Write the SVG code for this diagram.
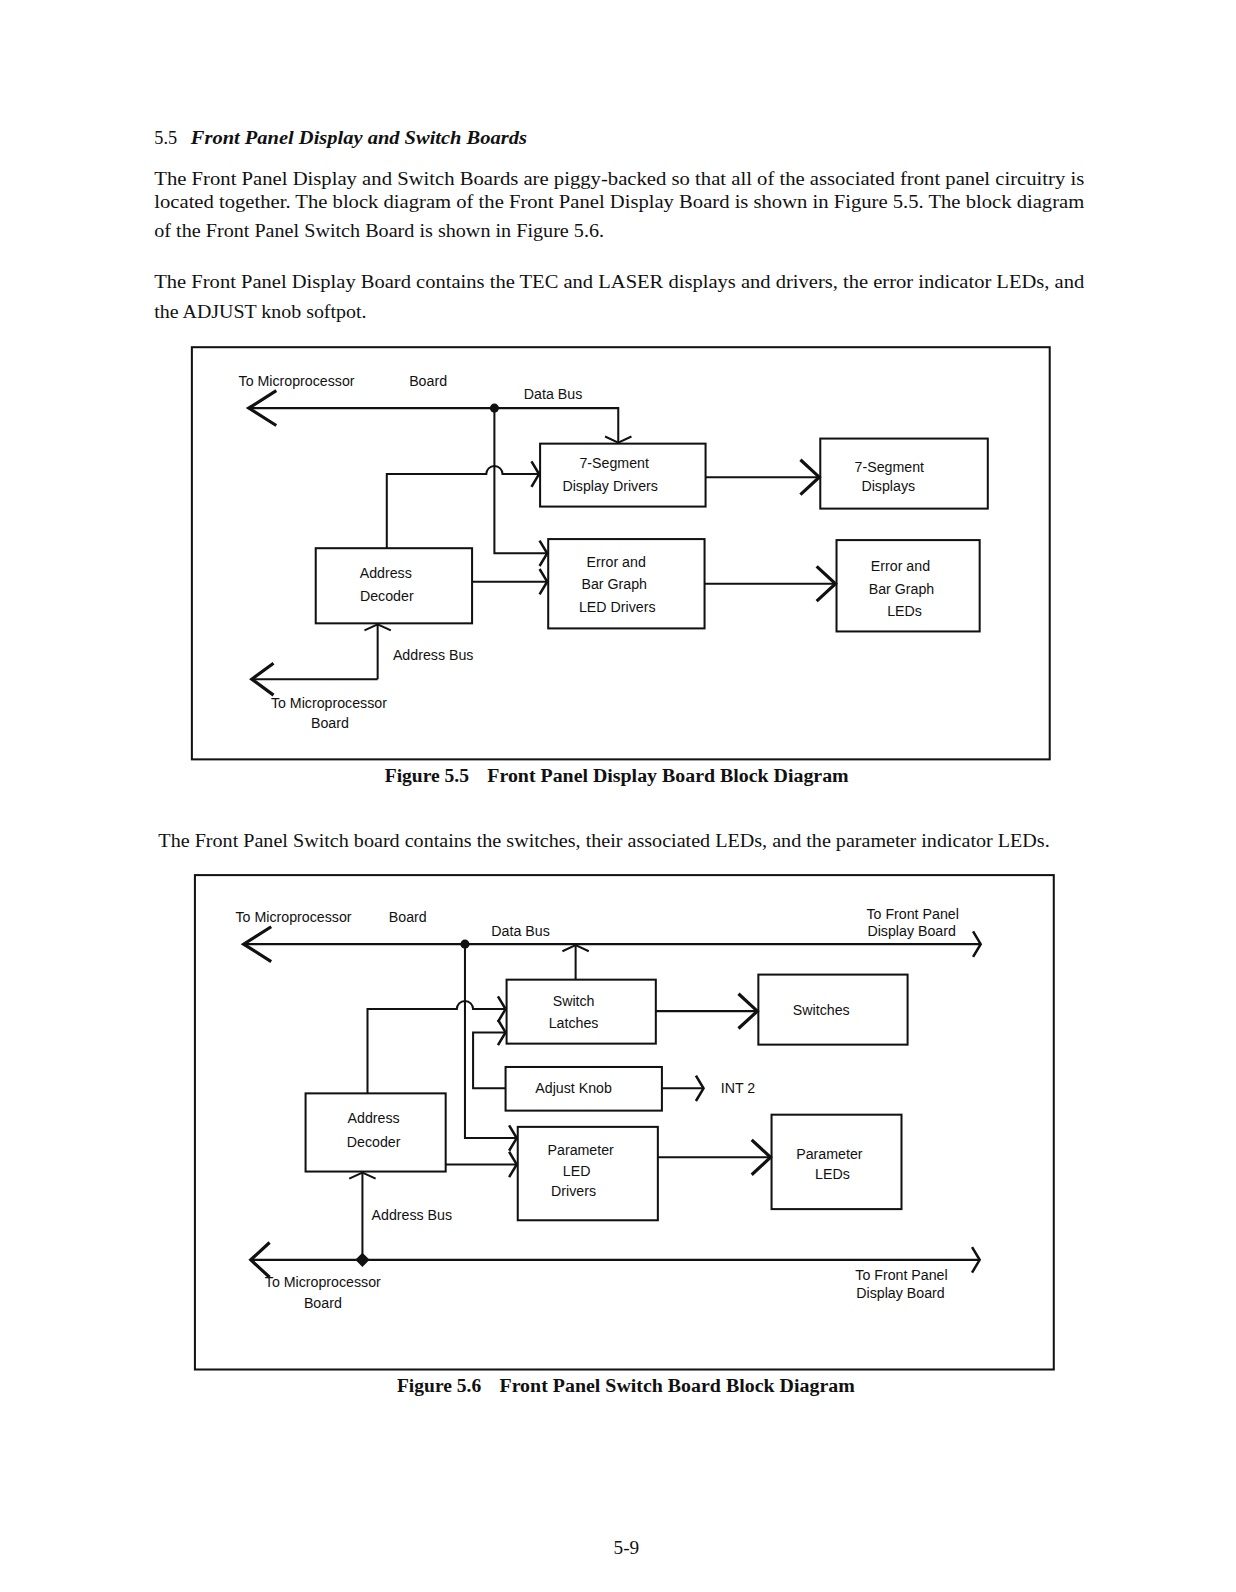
<svg xmlns="http://www.w3.org/2000/svg" width="1236" height="1592" viewBox="0 0 1236 1592">
<style>
.body{font-family:"Liberation Serif","Times New Roman",serif;font-size:19px;fill:#111}
.cap{font-family:"Liberation Serif","Times New Roman",serif;font-size:18px;font-weight:bold;fill:#111}
.lbl{font-family:"Liberation Sans",Arial,sans-serif;font-size:14px;fill:#111}
.c{text-anchor:middle}
.box{fill:none;stroke:#111;stroke-width:2}
.frame{fill:none;stroke:#111;stroke-width:2}
.ln{fill:none;stroke:#111;stroke-width:2}
</style>
<defs>
<marker id="aBig" markerUnits="userSpaceOnUse" markerWidth="40" markerHeight="40" viewBox="-22 -14 26 28" refX="0" refY="0" orient="auto" overflow="visible"><path d="M-19,-12 L0,0 L-19,12" fill="none" stroke="#111" stroke-width="2.2"/></marker>
<marker id="aMid" markerUnits="userSpaceOnUse" markerWidth="40" markerHeight="40" viewBox="-16 -14 20 28" refX="0" refY="0" orient="auto" overflow="visible"><path d="M-13,-12 L0,0 L-13,12" fill="none" stroke="#111" stroke-width="2.2"/></marker>
<marker id="aSm" markerUnits="userSpaceOnUse" markerWidth="40" markerHeight="40" viewBox="-16 -14 20 28" refX="0" refY="0" orient="auto" overflow="visible"><path d="M-15,-11 L0,0 L-15,11" fill="none" stroke="#111" stroke-width="2.2"/></marker>
<marker id="aNar" markerUnits="userSpaceOnUse" markerWidth="30" markerHeight="30" viewBox="-10 -12 14 24" refX="0" refY="0" orient="auto" overflow="visible"><path d="M-6,-10 L0,0 L-6,10" fill="none" stroke="#111" stroke-width="2"/></marker>
<marker id="aFlat" markerUnits="userSpaceOnUse" markerWidth="30" markerHeight="30" viewBox="-10 -15 14 30" refX="0" refY="0" orient="auto" overflow="visible"><path d="M-6,-13 L0,0 L-6,13" fill="none" stroke="#111" stroke-width="2"/></marker>
</defs>
<rect width="1236" height="1592" fill="#fff"/>
<g id="page" transform="scale(1.0152)">

<g id="page-text">
<text x="152" y="142" style="font-family:'Liberation Serif',serif;font-size:18px;fill:#111">5.5</text>
<text x="188" y="142" style="font-family:'Liberation Serif',serif;font-size:18px;font-weight:bold;font-style:italic;fill:#111" textLength="331" lengthAdjust="spacingAndGlyphs">Front Panel Display and Switch Boards</text>
<text class="body" x="152" y="182" textLength="916" lengthAdjust="spacingAndGlyphs">The Front Panel Display and Switch Boards are piggy-backed so that all of the associated front panel circuitry is</text>
<text class="body" x="152" y="205" textLength="916" lengthAdjust="spacingAndGlyphs">located together. The block diagram of the Front Panel Display Board is shown in Figure 5.5. The block diagram</text>
<text class="body" x="152" y="233" textLength="443" lengthAdjust="spacingAndGlyphs">of the Front Panel Switch Board is shown in Figure 5.6.</text>
<text class="body" x="152" y="284" textLength="916" lengthAdjust="spacingAndGlyphs">The Front Panel Display Board contains the TEC and LASER displays and drivers, the error indicator LEDs, and</text>
<text class="body" x="152" y="313" textLength="209" lengthAdjust="spacingAndGlyphs">the ADJUST knob softpot.</text>
<text class="cap" x="379" y="770" textLength="83" lengthAdjust="spacingAndGlyphs">Figure 5.5</text>
<text class="cap" x="480" y="770" textLength="356" lengthAdjust="spacingAndGlyphs">Front Panel Display Board Block Diagram</text>
<text class="body" x="156" y="834" textLength="878" lengthAdjust="spacingAndGlyphs">The Front Panel Switch board contains the switches, their associated LEDs, and the parameter indicator LEDs.</text>
<text class="cap" x="391" y="1371" textLength="83" lengthAdjust="spacingAndGlyphs">Figure 5.6</text>
<text class="cap" x="492" y="1371" textLength="350" lengthAdjust="spacingAndGlyphs">Front Panel Switch Board Block Diagram</text>
<text class="body" x="617" y="1531" text-anchor="middle">5-9</text>
</g>

<!-- Figure 5.5 -->
<g id="fig55">
<rect class="frame" x="189" y="342" width="845" height="406"/>
<g id="f55-labels">
<text class="lbl" x="235" y="380">To Microprocessor</text>
<text class="lbl" x="403" y="380">Board</text>
<text class="lbl" x="516" y="393">Data Bus</text>
<text class="lbl" x="387" y="650">Address Bus</text>
<text class="lbl c" x="324" y="697">To Microprocessor</text>
<text class="lbl c" x="325" y="717">Board</text>
</g>
<g id="f55-seg-drivers">
<rect class="box" x="532" y="437" width="163" height="62"/>
<text class="lbl c" x="605" y="461">7-Segment</text>
<text class="lbl c" x="601" y="484">Display Drivers</text>
</g>
<g id="f55-err-drivers">
<rect class="box" x="540" y="531" width="154" height="88"/>
<text class="lbl c" x="607" y="559">Error and</text>
<text class="lbl c" x="605" y="580">Bar Graph</text>
<text class="lbl c" x="608" y="603">LED Drivers</text>
</g>
<g id="f55-addr-decoder">
<rect class="box" x="311" y="540" width="154" height="74"/>
<text class="lbl c" x="380" y="569">Address</text>
<text class="lbl c" x="381" y="592">Decoder</text>
</g>
<g id="f55-seg-displays">
<rect class="box" x="808" y="432" width="165" height="69"/>
<text class="lbl c" x="876" y="465">7-Segment</text>
<text class="lbl c" x="875" y="484">Displays</text>
</g>
<g id="f55-leds">
<rect class="box" x="824" y="532" width="141" height="90"/>
<text class="lbl c" x="887" y="562">Error and</text>
<text class="lbl c" x="888" y="585">Bar Graph</text>
<text class="lbl c" x="891" y="607">LEDs</text>
</g>
<g id="f55-connectors">
<path class="ln" d="M487,402 H245" marker-end="url(#aBig)"/>
<path class="ln" d="M487,402 H609 V436" marker-end="url(#aFlat)"/>
<circle cx="487" cy="402" r="4.5" fill="#111"/>
<path class="ln" d="M487,402 V545 H539" marker-end="url(#aNar)"/>
<path class="ln" d="M381,540 V467 H479 a8,8 0 0 1 16,0 H531" marker-end="url(#aNar)"/>
<path class="ln" d="M465,573 H539" marker-end="url(#aNar)"/>
<path class="ln" d="M695,470 H807" marker-end="url(#aMid)"/>
<path class="ln" d="M694,575 H823" marker-end="url(#aMid)"/>
<path class="ln" d="M372,669 V615" marker-end="url(#aFlat)"/>
<path class="ln" d="M372,669 H248" marker-end="url(#aSm)"/>
</g>
</g>

<!-- Figure 5.6 -->
<g id="fig56">
<rect class="frame" x="192" y="862" width="846" height="487"/>
<g id="f56-labels">
<text class="lbl" x="232" y="908">To Microprocessor</text>
<text class="lbl" x="383" y="908">Board</text>
<text class="lbl" x="484" y="922">Data Bus</text>
<text class="lbl c" x="899" y="905">To Front Panel</text>
<text class="lbl c" x="898" y="922">Display Board</text>
<text class="lbl" x="710" y="1077">INT 2</text>
<text class="lbl" x="366" y="1202">Address Bus</text>
<text class="lbl c" x="318" y="1268">To Microprocessor</text>
<text class="lbl c" x="318" y="1288">Board</text>
<text class="lbl c" x="888" y="1261">To Front Panel</text>
<text class="lbl c" x="887" y="1279">Display Board</text>
</g>
<g id="f56-latches">
<rect class="box" x="499" y="965" width="147" height="63"/>
<text class="lbl c" x="565" y="991">Switch</text>
<text class="lbl c" x="565" y="1013">Latches</text>
</g>
<g id="f56-switches">
<rect class="box" x="747" y="960" width="147" height="69"/>
<text class="lbl c" x="809" y="1000">Switches</text>
</g>
<g id="f56-adjust">
<rect class="box" x="498" y="1051" width="154" height="43"/>
<text class="lbl c" x="565" y="1077">Adjust Knob</text>
</g>
<g id="f56-addr-decoder">
<rect class="box" x="301" y="1077" width="138" height="77"/>
<text class="lbl c" x="368" y="1106">Address</text>
<text class="lbl c" x="368" y="1130">Decoder</text>
</g>
<g id="f56-param-drivers">
<rect class="box" x="510" y="1110" width="138" height="92"/>
<text class="lbl c" x="572" y="1138">Parameter</text>
<text class="lbl c" x="568" y="1158">LED</text>
<text class="lbl c" x="565" y="1178">Drivers</text>
</g>
<g id="f56-param-leds">
<rect class="box" x="760" y="1098" width="128" height="93"/>
<text class="lbl c" x="817" y="1142">Parameter</text>
<text class="lbl c" x="820" y="1161">LEDs</text>
</g>
<g id="f56-connectors">
<path class="ln" d="M458,930 H240" marker-end="url(#aBig)"/>
<path class="ln" d="M458,930 H966" marker-end="url(#aNar)"/>
<circle cx="458" cy="930" r="4.5" fill="#111"/>
<path class="ln" d="M567,965 V931" marker-end="url(#aFlat)"/>
<path class="ln" d="M362,1077 V994 H450 a8,8 0 0 1 16,0 H498" marker-end="url(#aNar)"/>
<path class="ln" d="M498,1072 H466 V1017 H498" marker-end="url(#aNar)"/>
<path class="ln" d="M458,930 V1121 H509" marker-end="url(#aNar)"/>
<path class="ln" d="M439,1147 H509" marker-end="url(#aNar)"/>
<path class="ln" d="M646,996 H746" marker-end="url(#aMid)"/>
<path class="ln" d="M652,1072 H693" marker-end="url(#aNar)"/>
<path class="ln" d="M648,1140 H759" marker-end="url(#aMid)"/>
<path class="ln" d="M357,1241 V1155" marker-end="url(#aFlat)"/>
<path class="ln" d="M357,1241 H247" marker-end="url(#aMid)"/>
<path class="ln" d="M357,1241 H965" marker-end="url(#aNar)"/>
<path d="M357,1234 L364,1241 L357,1248 L350,1241 Z" fill="#111"/>
</g>
</g>
</g>
</svg>
